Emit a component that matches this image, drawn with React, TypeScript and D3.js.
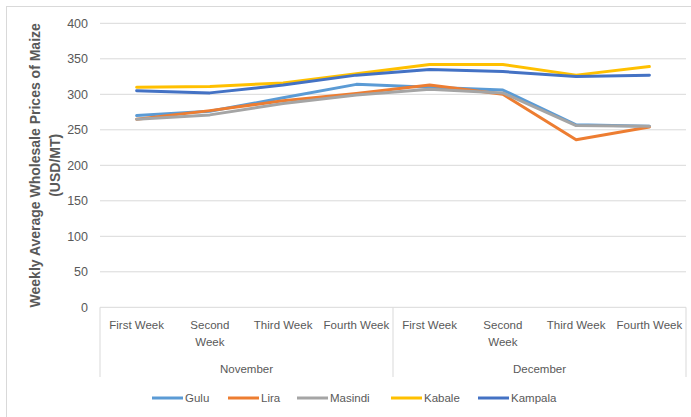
import React, { useRef, useEffect } from "react";
import * as d3 from "d3";

const months = ["November", "December"];
const weeks = ["First Week", "Second Week", "Third Week", "Fourth Week"];
const seriesNames = ["Gulu", "Lira", "Masindi", "Kabale", "Kampala"];
const colors = ["#5B9BD5", "#ED7D31", "#A5A5A5", "#FFC000", "#4472C4"];

const gulu = [270, 276, 295, 314, 310, 306, 257, 255];
const lira = [265, 277, 291, 301, 313, 300, 236, 254];
const masindi = [265, 271, 287, 299, 307, 302, 256, 255];
const kabale = [310, 311, 316, 329, 342, 342, 327, 339];
const kampala = [305, 302, 313, 327, 335, 332, 325, 327];

const yTicks = [0, 50, 100, 150, 200, 250, 300, 350, 400];

const App = () => {
  const svgRef = useRef<SVGSVGElement>(null);

  useEffect(() => {
    if (!svgRef.current) return;
    const svg = d3.select(svgRef.current);
    svg.selectAll("*").remove();

    const font = "'Liberation Sans', Arial, sans-serif";
    const textColor = "#595959";
    const left = 100, right = 686, top = 23.3, bottom = 307.3;

    // outer frame
    svg.append("rect")
      .attr("x", 6.5).attr("y", 6.5)
      .attr("width", 720).attr("height", 440)
      .attr("fill", "white")
      .attr("stroke", "#d9d9d9");

    const cats = months.flatMap(m => weeks.map(w => `${m}|${w}`));
    const x = d3.scaleBand<string>().domain(cats).range([left, right]).padding(0);
    const y = d3.scaleLinear().domain([0, 400]).range([bottom, top]);

    // gridlines
    svg.append("g")
      .selectAll("line")
      .data(yTicks.filter(t => t > 0))
      .join("line")
      .attr("x1", left).attr("x2", right)
      .attr("y1", d => y(d)).attr("y2", d => y(d))
      .attr("stroke", "#d9d9d9").attr("stroke-width", 1);

    // y tick labels
    svg.append("g")
      .selectAll("text")
      .data(yTicks)
      .join("text")
      .attr("x", 88).attr("y", d => y(d))
      .attr("dy", "0.35em")
      .attr("text-anchor", "end")
      .attr("font-family", font).attr("font-size", 12.5)
      .attr("fill", textColor)
      .text(d => d);

    // x axis baseline and month dividers
    svg.append("line")
      .attr("x1", left).attr("x2", right)
      .attr("y1", bottom).attr("y2", bottom)
      .attr("stroke", "#d9d9d9");
    const dividers = [left, x(`${months[1]}|${weeks[0]}`)!, right];
    svg.append("g")
      .selectAll("line")
      .data(dividers)
      .join("line")
      .attr("x1", d => d).attr("x2", d => d)
      .attr("y1", bottom).attr("y2", 377)
      .attr("stroke", "#d9d9d9");

    // week labels
    const wk = svg.append("g")
      .selectAll("text")
      .data(cats)
      .join("text")
      .attr("x", d => x(d)! + x.bandwidth() / 2)
      .attr("y", 329)
      .attr("text-anchor", "middle")
      .attr("font-family", font).attr("font-size", 11.5)
      .attr("fill", textColor);
    wk.each(function (d) {
      const w = d.split("|")[1];
      const t = d3.select(this);
      if (w === "Second Week") {
        t.append("tspan").attr("x", x(d)! + x.bandwidth() / 2).text("Second");
        t.append("tspan").attr("x", x(d)! + x.bandwidth() / 2).attr("dy", 17).text("Week");
      } else {
        t.text(w);
      }
    });

    // month labels
    svg.append("g")
      .selectAll("text")
      .data(months)
      .join("text")
      .attr("x", (m, i) => (dividers[i] + dividers[i + 1]) / 2)
      .attr("y", 373)
      .attr("text-anchor", "middle")
      .attr("font-family", font).attr("font-size", 11.5)
      .attr("fill", textColor)
      .text(m => m);

    // y axis title
    const title = svg.append("text")
      .attr("transform", `translate(0,${(top + bottom) / 2}) rotate(-90)`)
      .attr("text-anchor", "middle")
      .attr("font-family", font).attr("font-size", 14)
      .attr("font-weight", "bold")
      .attr("fill", textColor);
    title.append("tspan").attr("x", 0).attr("y", 40).text("Weekly Average Wholesale Prices of Maize");
    title.append("tspan").attr("x", 0).attr("y", 60).text("(USD/MT)");

    // lines
    const allSeries = [gulu, lira, masindi, kabale, kampala];
    const line = d3.line<number>()
      .x((_, i) => x(cats[i])! + x.bandwidth() / 2)
      .y(d => y(d));
    svg.append("g")
      .selectAll("path")
      .data(allSeries)
      .join("path")
      .attr("fill", "none")
      .attr("stroke", (_, i) => colors[i])
      .attr("stroke-width", 3)
      .attr("stroke-linejoin", "round")
      .attr("stroke-linecap", "round")
      .attr("d", d => line(d));

    // legend
    const legendX = [152, 228, 297, 391, 478];
    const lg = svg.append("g")
      .selectAll("g")
      .data(seriesNames)
      .join("g")
      .attr("transform", (_, i) => `translate(${legendX[i]},398)`);
    lg.append("line")
      .attr("x1", 0).attr("x2", 31)
      .attr("stroke", (_, i) => colors[i])
      .attr("stroke-width", 3);
    lg.append("text")
      .attr("x", 33).attr("dy", "0.35em")
      .attr("font-family", font).attr("font-size", 11.5)
      .attr("fill", textColor)
      .text(d => d);
  }, []);

  return (
    <svg ref={svgRef} width={691} height={417}
      style={{ position: "absolute", left: 0, top: 0, display: "block" }} />
  );
};

export default App;
